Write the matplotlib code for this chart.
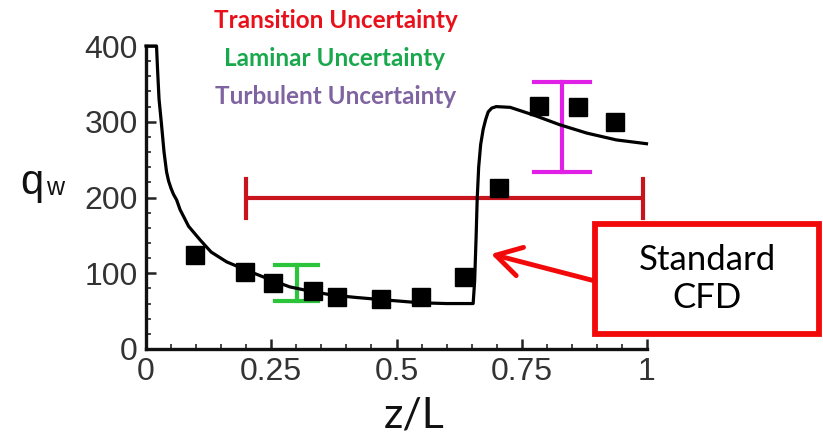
import matplotlib
matplotlib.use("Agg")
import matplotlib.pyplot as plt
from matplotlib.patches import Rectangle
from matplotlib.ticker import MultipleLocator

# Standard CFD wall heat flux along the body
cfd_z = [0.0, 0.021, 0.023, 0.026, 0.031, 0.036, 0.041, 0.045, 0.050, 0.055, 0.061, 0.068,
         0.085, 0.108, 0.13, 0.161, 0.208, 0.25, 0.287, 0.33, 0.374, 0.42,
         0.473, 0.547, 0.60, 0.653, 0.656, 0.659, 0.661, 0.664, 0.668, 0.673,
         0.678, 0.683, 0.690, 0.699, 0.727, 0.773, 0.826, 0.88, 0.939, 0.999]
cfd_q = [400, 400, 370, 330, 296, 260, 234, 222, 212, 204, 197, 184,
         162, 144, 128, 115, 102, 91, 82, 76, 71, 68,
         65, 61, 60, 60, 90, 150, 197, 240, 270, 290,
         303, 313, 318, 320, 319, 309, 296, 285, 276, 271]

# Experimental measurements
exp_z = [0.098, 0.198, 0.254, 0.334, 0.382, 0.470, 0.549, 0.635, 0.705, 0.785, 0.863, 0.936]
exp_q = [124, 102, 87, 77, 69, 66, 69, 95, 212, 321, 320, 300]

# Uncertainty bands
trans_z = [0.2, 0.993]
trans_q = 199
lam_z, lam_lo, lam_hi = 0.301, 63, 111
turb_z, turb_lo, turb_hi = 0.831, 234, 352

x_ticks = [0, 0.25, 0.5, 0.75, 1]
x_ticklabels = ["0", "0.25", "0.5", "0.75", "1"]
y_ticks = [0, 100, 200, 300, 400]
y_ticklabels = ["0", "100", "200", "300", "400"]

W, H = 823, 441
fig = plt.figure(figsize=(W / 100, H / 100), dpi=100)
ax = fig.add_axes([146 / W, 1 - 349 / H, (647 - 146) / W, (349 - 46) / H])
ax.set_xlim(0, 1)
ax.set_ylim(0, 400)

tick_color = "#333333"
for s in ("top", "right"):
    ax.spines[s].set_visible(False)
for s in ("left", "bottom"):
    ax.spines[s].set_linewidth(2.4)
    ax.spines[s].set_color("#111111")

ax.set_xticks(x_ticks)
ax.set_xticklabels(x_ticklabels)
ax.set_yticks(y_ticks)
ax.set_yticklabels(y_ticklabels)
ax.xaxis.set_minor_locator(MultipleLocator(0.05))
ax.yaxis.set_minor_locator(MultipleLocator(20))
ax.tick_params(which="major", direction="in", length=7, width=1.8, color="#222222",
               labelsize=23, labelcolor=tick_color, pad=6)
ax.tick_params(which="minor", direction="in", length=3.6, width=1.4, color="#444444")
for lab in ax.get_xticklabels() + ax.get_yticklabels():
    lab.set_fontfamily("Liberation Sans")

# Transition uncertainty (horizontal bar)
red_dark = "#c8141c"
ax.plot(trans_z, [trans_q, trans_q], color=red_dark, lw=3, solid_capstyle="butt", zorder=2)
for zc in trans_z:
    ax.plot([zc, zc], [trans_q - 26, trans_q + 26], color=red_dark, lw=3, zorder=2)

# Laminar uncertainty
green = "#2cc43a"
ax.plot([lam_z, lam_z], [lam_lo, lam_hi], color=green, lw=3, zorder=2)
for qv in (lam_lo, lam_hi):
    ax.plot([lam_z - 0.043, lam_z + 0.043], [qv, qv], color=green, lw=3, zorder=2)

# Turbulent uncertainty
magenta = "#e020e6"
ax.plot([turb_z, turb_z], [turb_lo, turb_hi], color=magenta, lw=3, zorder=2)
for qv in (turb_lo, turb_hi):
    ax.plot([turb_z - 0.056, turb_z + 0.056], [qv, qv], color=magenta, lw=3, zorder=2)

ax.plot(cfd_z, cfd_q, color="black", lw=2.3, clip_on=False, zorder=3)
ax.plot(exp_z, exp_q, linestyle="none", marker="s", markersize=12.5, color="black", zorder=4)

# Axis labels
fig.text(20 / W, 1 - 183 / H, "q", fontsize=30, fontfamily="Liberation Sans",
         ha="left", va="center", color="#111111")
fig.text(46 / W, 1 - 188 / H, "w", fontsize=18, fontfamily="Liberation Sans",
         ha="left", va="center", color="#111111")
fig.text(414 / W, 1 - 415 / H, "z/L", fontsize=31, fontfamily="Lato",
         ha="center", va="center", color="#111111")

# Captions
fig.text(336 / W, 1 - 20 / H, "Transition Uncertainty", fontsize=17.5, fontweight="bold",
         fontfamily="Lato", color="#e8101a", ha="center", va="center")
fig.text(335 / W, 1 - 58 / H, "Laminar Uncertainty", fontsize=17.5, fontweight="bold",
         fontfamily="Lato", color="#1aa84c", ha="center", va="center")
fig.text(336 / W, 1 - 96 / H, "Turbulent Uncertainty", fontsize=17.5, fontweight="bold",
         fontfamily="Lato", color="#8064a2", ha="center", va="center")

# Callout box with arrow
box_red = "#f20a0a"
fig.patches.append(Rectangle((595 / W, 1 - 334 / H), (819 - 595) / W, (334 - 224) / H,
                             transform=fig.transFigure, fill=False, edgecolor=box_red,
                             linewidth=4.2, zorder=5))
fig.text(707 / W, 1 - 279 / H, "Standard\nCFD", fontsize=25, fontfamily="Lato",
         ha="center", va="center", linespacing=1.2, color="black")
ax.annotate("", xy=((491 - 146) / 501, (349 - 254) / 0.7575),
            xytext=(595 / W, 1 - 281 / H), textcoords="figure fraction",
            arrowprops=dict(arrowstyle="->,head_length=0.6,head_width=0.35",
                            mutation_scale=30, color=box_red, lw=3.5,
                            shrinkA=0, shrinkB=0),
            annotation_clip=False)

fig.savefig("out.png", dpi=100, facecolor="white")
